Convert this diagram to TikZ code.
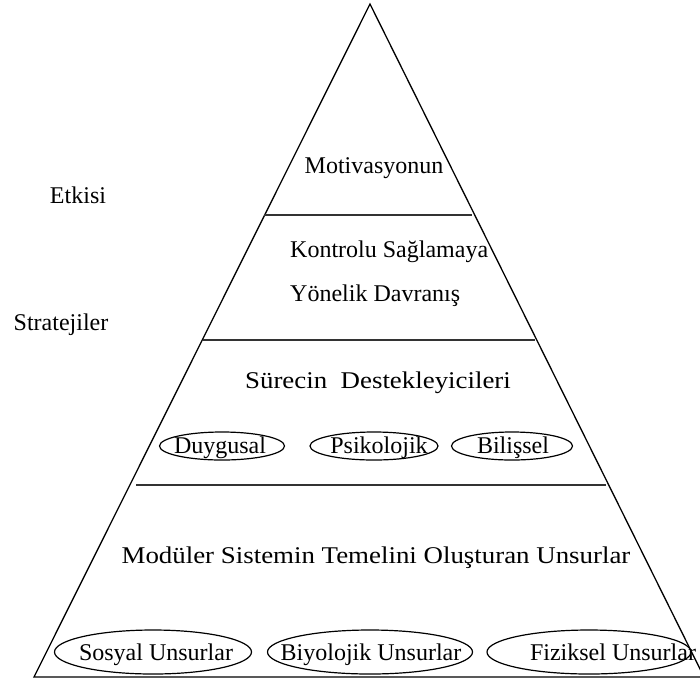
\documentclass[tikz,border=0pt]{standalone}
\usepackage{fontspec}
\usepackage{graphicx}
\setmainfont{Liberation Serif}
\usetikzlibrary{shapes.geometric}
\begin{document}
\begin{tikzpicture}[x=1pt,y=1pt,
  edge/.style={line width=1.3pt, line join=miter},
  sep/.style={line width=1.6pt, draw=black!80},
  lbl/.style={font=\fontsize{24}{28}\selectfont, inner sep=0pt},
  oval/.style={ellipse, draw, line width=1.2pt, inner sep=0pt}]
\useasboundingbox (0,0) rectangle (700,-683);
% triangle
\coordinate (apex) at (370,-4);
\coordinate (bl) at (34,-677);
\coordinate (br) at (704,-677);
\draw[edge] (bl) -- (apex) -- (br) -- cycle;
% separators
\coordinate (s1l) at (264,-215); \coordinate (s1r) at (472,-215);
\coordinate (s2l) at (203,-340); \coordinate (s2r) at (535,-340);
\coordinate (s3l) at (136,-485); \coordinate (s3r) at (606,-485);
\draw[sep] (s1l) -- (s1r);
\draw[sep] (s2l) -- (s2r);
\draw[sep] (s3l) -- (s3r);
% texts
\node[lbl] (mot) at (374,-168) {Motivasyonun};
\node[lbl, anchor=west] (kon) at (290,-252) {Kontrolu Sağlamaya};
\node[lbl, anchor=west] (yon) at (290,-296) {Yönelik Davranış};
\node[lbl] (sur) at (378,-383) {\scalebox{1.12}[1]{Sürecin\ \ Destekleyicileri}};
\node[lbl] (mod) at (376,-558) {\scalebox{1.12}[1]{Modüler Sistemin Temelini Oluşturan Unsurlar}};
\node[lbl] (etk) at (78,-195) {Etkisi};
\node[lbl] (str) at (61,-325) {Stratejiler};
% middle ellipses
\node[oval, minimum width=125, minimum height=28] (duy) at (222,-446) {};
\node[oval, minimum width=128, minimum height=28] (psi) at (374,-446) {};
\node[oval, minimum width=121, minimum height=28] (bil) at (512,-446) {};
\node[lbl, anchor=base] (duyt) at (220,-453) {Duygusal};
\node[lbl, anchor=base] (psit) at (379,-453) {Psikolojik};
\node[lbl, anchor=base] (bilt) at (513,-453) {Bilişsel};
% bottom ellipses
\node[oval, minimum width=197, minimum height=44] (sos) at (153,-652) {};
\node[oval, minimum width=205, minimum height=44] (biy) at (370,-652) {};
\node[oval, minimum width=204, minimum height=44] (fiz) at (589,-652) {};
\node[lbl, anchor=base] (sost) at (156,-660) {Sosyal Unsurlar};
\node[lbl, anchor=base] (biyt) at (371,-660) {Biyolojik Unsurlar};
\node[lbl, anchor=base] (fizt) at (613,-660) {Fiziksel Unsurlar};
\end{tikzpicture}
\end{document}
